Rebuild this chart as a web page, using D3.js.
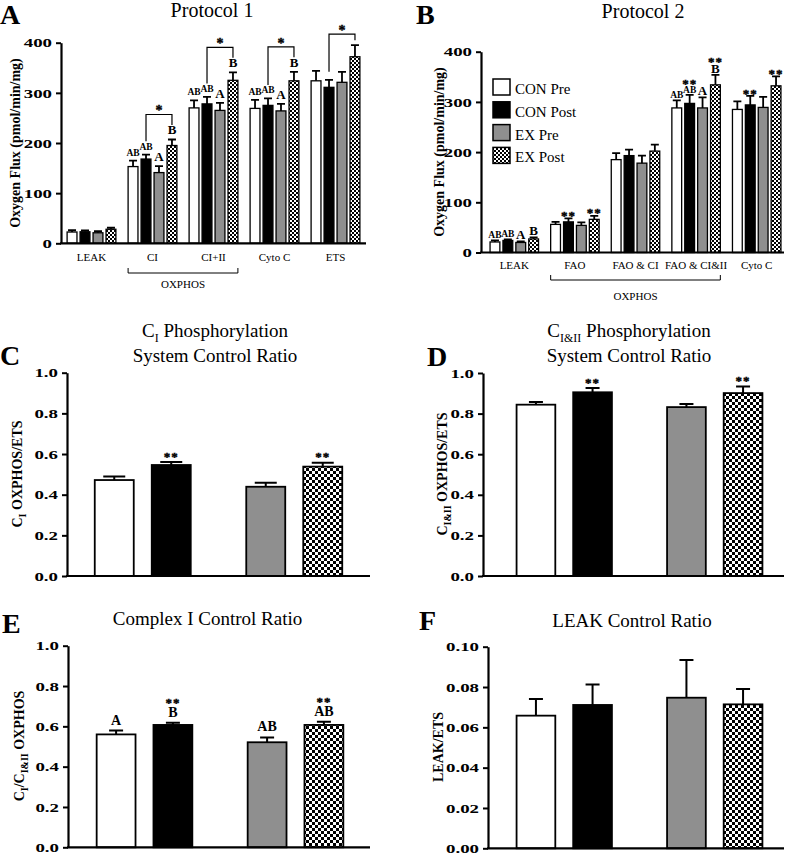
<!DOCTYPE html>
<html><head><meta charset="utf-8">
<script src="https://cdn.jsdelivr.net/npm/d3@7"></script>
<style>
body{margin:0;background:#fff;}
svg{display:block;}
text{font-family:"Liberation Serif","Times New Roman",serif;fill:#000;}
</style></head><body>
<svg id="chart" width="792" height="855"></svg>
<script>
// ---------- DATA ----------
const groups = ["CON Pre","CON Post","EX Pre","EX Post"];

// Protocol 1 (panel A)
const p1Categories = ["LEAK","CI","CI+II","Cyto C","ETS"];
const p1ConPre  = [22.5,153,270,269,324];
const p1ConPost = [23,168,278,275,311];
const p1ExPre   = [21,141,265,264,321];
const p1ExPost  = [28,195,325,324,372];
const p1ConPreErr  = [3.5,12,15,17,20];
const p1ConPostErr = [2.5,9,14,14,15];
const p1ExPreErr   = [3,13,15,14,21];
const p1ExPostErr  = [3,12,16,18,23];
const p1LetConPre  = ["","AB","AB","AB",""];
const p1LetConPost = ["","AB","AB","AB",""];
const p1LetExPre   = ["","A","A","A",""];
const p1LetExPost  = ["","B","B","B",""];
const p1Brackets = ["CI","CI+II","Cyto C","ETS"];
const p1Ticks = [0,100,200,300,400];

// Protocol 2 (panel B)
const p2Categories = ["LEAK","FAO","FAO & CI","FAO & CI&II","Cyto C"];
const p2ConPre  = [21,56,185,288,285];
const p2ConPost = [24,61,193,297,294];
const p2ExPre   = [20,54,178,288,289];
const p2ExPost  = [27,66,202,334,332];
const p2ConPreErr  = [3,5,13,15,16];
const p2ConPostErr = [2,7,12,17,18];
const p2ExPreErr   = [2,6,15,21,21];
const p2ExPostErr  = [3,7,13,20,19];
const p2LetConPre  = ["AB","","","AB",""];
const p2LetConPost = ["AB","","","AB",""];
const p2LetExPre   = ["A","","","A",""];
const p2LetExPost  = ["B","","","B",""];
const p2StarConPost = ["","**","","**","**"];
const p2StarExPost  = ["","**","","**","**"];
const p2Ticks = [0,100,200,300,400];

// Ratio panels (C-F): order CON Pre, CON Post, EX Pre, EX Post
const cValues = [0.472,0.546,0.439,0.538];
const cErrors = [0.017,0.015,0.020,0.019];
const cStars  = ["","**","","**"];
const dValues = [0.844,0.905,0.832,0.901];
const dErrors = [0.013,0.021,0.015,0.033];
const dStars  = ["","**","","**"];
const eValues = [0.560,0.607,0.521,0.607];
const eErrors = [0.019,0.011,0.024,0.016];
const eLetters = ["A","B","AB","AB"];
const eStars  = ["","**","","**"];
const fValues = [0.0658,0.0711,0.0747,0.0714];
const fErrors = [0.0083,0.0102,0.0187,0.0076];
const ratioTicks = [0,0.2,0.4,0.6,0.8,1.0];
const leakTicks = [0,0.02,0.04,0.06,0.08,0.10];

// ---------- DRAWING ----------
const svg = d3.select("#chart");
const defs = svg.append("defs");
function checker(id, s){
  const p = defs.append("pattern").attr("id",id).attr("patternUnits","userSpaceOnUse")
    .attr("width",2*s).attr("height",2*s);
  p.append("rect").attr("width",2*s).attr("height",2*s).attr("fill","#fff");
  p.append("rect").attr("width",s).attr("height",s).attr("fill","#000");
  p.append("rect").attr("x",s).attr("y",s).attr("width",s).attr("height",s).attr("fill","#000");
}
checker("chkS",2); checker("chkL",3);
const fillsS = ["#ffffff","#000000","#8f8f8f","url(#chkS)"];
const fillsL = ["#ffffff","#000000","#8f8f8f","url(#chkL)"];

function multiText(g, parts, attrs){
  const t = g.append("text");
  Object.entries(attrs).forEach(([k,v])=>t.attr(k,v));
  let shifted = 0;
  parts.forEach(p=>{
    const sp = t.append("tspan").text(p.t);
    if(p.sub){ sp.attr("font-size",p.size).attr("dy", p.shift - shifted); shifted = p.shift; }
    else if(shifted){ sp.attr("dy",-shifted); shifted = 0; }
  });
  return t;
}

function starText(g, x, y, s, size){
  return g.append("text").attr("x",x).attr("y",y).attr("text-anchor","middle")
    .attr("font-family","'Liberation Serif'").attr("font-size",size).attr("font-weight","bold")
    .attr("stroke","#000").attr("stroke-width",0.4)
    .attr("letter-spacing", s.length>1?1:0).text(s);
}

function drawPanel(o){
  const g = svg.append("g");
  const x = d3.scaleBand().domain(o.cats).range(o.barRange).paddingInner(o.pIn).paddingOuter(o.pOut);
  const xs = d3.scaleBand().domain(o.subs).range([0,x.bandwidth()]).paddingInner(o.sIn).paddingOuter(o.sOut);
  const y = d3.scaleLinear().domain([0,o.yMax]).range(o.yRange);

  const bars = g.append("g").selectAll("g").data(o.records).join("g");
  bars.append("rect")
    .attr("x", d=>x(d.cat)+xs(d.sub))
    .attr("y", d=>y(d.v))
    .attr("width", xs.bandwidth())
    .attr("height", d=>y(0)-y(d.v))
    .attr("fill", d=>d.fill)
    .attr("stroke","#000").attr("stroke-width",o.barStroke);
  bars.append("path")
    .attr("d", d=>{
      const cx = x(d.cat)+xs(d.sub)+xs.bandwidth()/2;
      const yt = y(d.v+d.e);
      return `M${cx},${y(d.v)}V${yt}M${cx-o.capW/2},${yt}H${cx+o.capW/2}`;
    })
    .attr("stroke","#000").attr("stroke-width",o.errStroke).attr("fill","none");
  o.records.forEach(d=>{
    const cx = x(d.cat)+xs(d.sub)+xs.bandwidth()/2;
    let bottom = y(d.v+d.e) - o.gap;
    (d.labels||[]).forEach(l=>{
      const star = l.t.indexOf("*")>=0;
      const base = bottom + (star ? 0.28*l.size : 0);
      if(star) starText(g, cx, base, l.t, l.size);
      else g.append("text").attr("x",cx).attr("y",base).attr("text-anchor","middle")
        .attr("font-size",l.size).attr("font-weight","bold").text(l.t);
      const top = base - (star?0.68:0.66)*l.size;
      bottom = top - o.gap2;
      d.labelTop = top;
    });
    d.cx = cx; d.capY = y(d.v+d.e);
  });

  const ax = g.append("g").attr("transform",`translate(${o.axisX},0)`)
    .call(d3.axisLeft(y).tickValues(o.ticks).tickFormat(o.fmt).tickSize(5).tickSizeOuter(0).tickPadding(3));
  ax.select(".domain").attr("stroke-width",2.2);
  ax.selectAll(".tick line").attr("stroke-width",2);
  ax.selectAll(".tick text").attr("x",null)
    .attr("transform",`translate(-9,0) scale(${o.tickStretch},1)`)
    .attr("font-family","'Liberation Serif',serif").attr("font-weight","bold")
    .attr("font-size",o.tickSize);
  g.append("line").attr("x1",o.axisX-1).attr("x2",o.axisEnd).attr("y1",y(0)).attr("y2",y(0))
    .attr("stroke","#000").attr("stroke-width",2.2);

  if(o.catLabels){
    g.selectAll(".cl").data(o.cats).join("text")
      .attr("x",d=>x(d)+x.bandwidth()/2).attr("y",o.catY).attr("text-anchor","middle")
      .attr("font-size",11).text(d=>d);
  }
  return {g,x,xs,y};
}

function seriesRecords(cats, vals, errs, lets, stars, fills, letSizes){
  const recs = [];
  groups.forEach((s,si)=>{
    cats.forEach((c,ci)=>{
      const labels=[];
      if(lets && lets[si] && lets[si][ci]) labels.push({t:lets[si][ci], size: lets[si][ci].length>1?letSizes[0]:letSizes[1]});
      if(stars && stars[si] && stars[si][ci]) labels.push({t:stars[si][ci], size:13});
      recs.push({cat:c, sub:s, v:vals[si][ci], e:errs[si][ci], fill:fills[si], labels});
    });
  });
  return recs;
}

// ----- Panel A -----
const recA = seriesRecords(p1Categories,
  [p1ConPre,p1ConPost,p1ExPre,p1ExPost],[p1ConPreErr,p1ConPostErr,p1ExPreErr,p1ExPostErr],
  [p1LetConPre,p1LetConPost,p1LetExPre,p1LetExPost], null, fillsS, [9.5,13]);
const A = drawPanel({cats:p1Categories, subs:groups, records:recA, barRange:[61,366], pIn:0.2, pOut:0.1,
  sIn:0.24, sOut:0, yMax:400, yRange:[243.3,42.7], axisX:61, axisEnd:366, ticks:p1Ticks, fmt:d3.format("d"),
  tickSize:13, tickStretch:1.45, capW:8, barStroke:1.3, errStroke:1.8, gap:5, gap2:3, catLabels:true, catY:261});
p1Brackets.forEach(c=>{
  const L = recA.find(r=>r.cat===c && r.sub==="CON Post");
  const R = recA.find(r=>r.cat===c && r.sub==="EX Post");
  const hasL = R.labels.length>0;
  const top = R.capY - (hasL?25:11);
  const rb = hasL ? R.labelTop-1 : R.capY-5;
  const lb = L.labels.length ? L.labelTop-2 : L.capY-8;
  A.g.append("path").attr("d",`M${L.cx},${lb}V${top}H${R.cx}V${rb}`).attr("fill","none")
    .attr("stroke","#000").attr("stroke-width",1.2);
  starText(A.g, (L.cx+R.cx)/2, top+1, "*", 14);
});
(function(){
  const x1 = A.x("CI"), x2 = A.x("CI+II")+A.x.bandwidth();
  A.g.append("path").attr("d",`M${x1},268V273H${x2}V268`).attr("fill","none").attr("stroke","#000").attr("stroke-width",1);
  A.g.append("text").attr("x",(x1+x2)/2).attr("y",288).attr("text-anchor","middle").attr("font-size",11).text("OXPHOS");
})();

// ----- Panel B -----
const recB = seriesRecords(p2Categories,
  [p2ConPre,p2ConPost,p2ExPre,p2ExPost],[p2ConPreErr,p2ConPostErr,p2ExPreErr,p2ExPostErr],
  [p2LetConPre,p2LetConPost,p2LetExPre,p2LetExPost], [null,p2StarConPost,null,p2StarExPost], fillsS, [9.5,13]);
const B = drawPanel({cats:p2Categories, subs:groups, records:recB, barRange:[484,787], pIn:0.2, pOut:0.1,
  sIn:0.24, sOut:0, yMax:400, yRange:[252.5,51.7], axisX:481, axisEnd:784, ticks:p2Ticks, fmt:d3.format("d"),
  tickSize:13, tickStretch:1.45, capW:8, barStroke:1.3, errStroke:1.8, gap:2, gap2:2, catLabels:true, catY:269});
(function(){
  const x1 = B.x("FAO"), x2 = B.x("FAO & CI&II")+B.x.bandwidth();
  B.g.append("path").attr("d",`M${x1},275V280H${x2}V275`).attr("fill","none").attr("stroke","#000").attr("stroke-width",1);
  B.g.append("text").attr("x",(x1+x2)/2).attr("y",300).attr("text-anchor","middle").attr("font-size",11).text("OXPHOS");
  const lg = B.g.append("g");
  groups.forEach((s,i)=>{
    const yy = 79 + i*22.8;
    lg.append("rect").attr("x",493).attr("y",yy).attr("width",17).attr("height",16)
      .attr("fill",fillsS[i]).attr("stroke","#000").attr("stroke-width",1.5);
    lg.append("text").attr("x",515).attr("y",yy+15).attr("font-size",15).text(s);
  });
})();

// ----- Ratio panels -----
function ratioRecords(vals, errs, lets, stars, letSize){
  const cats=["CON","EX"], subs=["Pre","Post"];
  return vals.map((v,i)=>{
    const labels=[];
    if(lets && lets[i]) labels.push({t:lets[i], size:letSize});
    if(stars && stars[i]) labels.push({t:stars[i], size:13});
    return {cat:cats[Math.floor(i/2)], sub:subs[i%2], v, e:errs[i], fill:fillsL[i], labels};
  });
}
const ratioBase = {cats:["CON","EX"], subs:["Pre","Post"], pIn:0, pOut:0, sIn:0.316, sOut:0.487,
  tickSize:13, tickStretch:1.45, barStroke:1.8, errStroke:2, gap2:4, catLabels:false};

const C = drawPanel(Object.assign({}, ratioBase, {records:ratioRecords(cValues,cErrors,null,cStars),
  barRange:[67,370], yMax:1, yRange:[576,372.7], axisX:67, axisEnd:370, ticks:ratioTicks, fmt:d3.format(".1f"),
  capW:22, gap:5}));
const D = drawPanel(Object.assign({}, ratioBase, {records:ratioRecords(dValues,dErrors,null,dStars),
  barRange:[489,790], yMax:1, yRange:[576,373], axisX:483, axisEnd:784, ticks:ratioTicks, fmt:d3.format(".1f"),
  capW:14, gap:5}));
const E = drawPanel(Object.assign({}, ratioBase, {records:ratioRecords(eValues,eErrors,eLetters,eStars,14),
  barRange:[69,371], yMax:1, yRange:[847.3,645.7], axisX:68, axisEnd:370, ticks:ratioTicks, fmt:d3.format(".1f"),
  capW:14, gap:6}));
const F = drawPanel(Object.assign({}, ratioBase, {records:ratioRecords(fValues,fErrors,null,null),
  barRange:[489,790], yMax:0.1, yRange:[848.3,646.7], axisX:488, axisEnd:784, ticks:leakTicks, fmt:d3.format(".2f"),
  capW:14, gap:5}));

// ---------- TEXT ----------
function panelLetter(t,x,y){
  svg.append("text").attr("x",x).attr("y",y).attr("font-family","'Liberation Sans',Arial,sans-serif")
    .attr("font-weight","bold").attr("font-size",28).text(t);
}
panelLetter("A",0,24); panelLetter("B",416,24);
panelLetter("C",0,365); panelLetter("D",427,366);
panelLetter("E",2,633); panelLetter("F",419,630);

function title(t,x,y,size){ svg.append("text").attr("x",x).attr("y",y).attr("text-anchor","middle").attr("font-size",size||19).text(t); }
title("Protocol 1",212,17,20);
title("Protocol 2",643,17.5,20);
multiText(svg,[{t:"C"},{t:"I",sub:true,size:12,shift:5},{t:" Phosphorylation"}],
  {x:215,y:336.5,"text-anchor":"middle","font-size":19});
title("System Control Ratio",215,361.5);
multiText(svg,[{t:"C"},{t:"I&II",sub:true,size:12,shift:5},{t:" Phosphorylation"}],
  {x:629,y:336.5,"text-anchor":"middle","font-size":19});
title("System Control Ratio",629,361.5);
title("Complex I Control Ratio",207.5,625);
title("LEAK Control Ratio",632,626.5);

function yTitle(parts,x,y){
  multiText(svg, parts, {transform:`translate(${x},${y}) rotate(-90)`,"text-anchor":"middle",
    "font-size":14,"font-weight":"bold"});
}
yTitle([{t:"Oxygen Flux (pmol/min/mg)"}],20,143);
yTitle([{t:"Oxygen Flux (pmol/min/mg)"}],444,152);
yTitle([{t:"C"},{t:"I",sub:true,size:10,shift:4},{t:" OXPHOS/ETS"}],22,474);
yTitle([{t:"C"},{t:"I&II",sub:true,size:10,shift:4},{t:" OXPHOS/ETS"}],447,474);
yTitle([{t:"C"},{t:"I",sub:true,size:10,shift:4},{t:"/C"},{t:"I&II",sub:true,size:10,shift:4},{t:" OXPHOS"}],24,746);
yTitle([{t:"LEAK/ETS"}],443,747);
</script>
</body></html>
